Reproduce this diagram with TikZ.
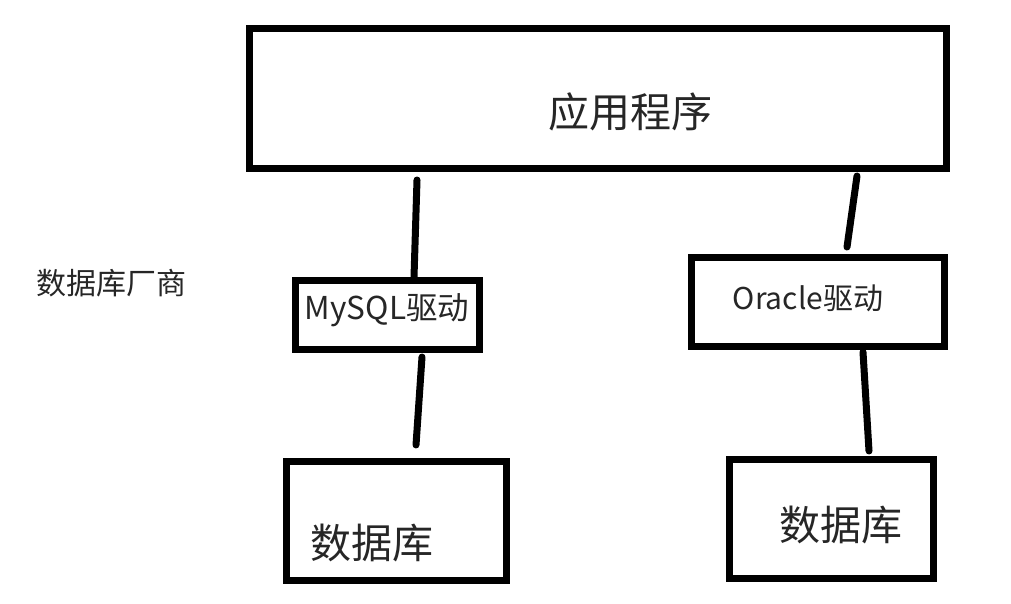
\documentclass[tikz,border=0pt]{standalone}
\usepackage{fontspec}
\setmainfont{Noto Sans CJK SC}
\newfontfamily\cjk{Noto Sans CJK SC}
\begin{document}
\begin{tikzpicture}[x=1pt,y=-1pt,
  box/.style={draw=black,line width=7pt,rectangle,inner sep=0pt,outer sep=0pt,fill=white},
  conn/.style={draw=black,line width=7pt,line cap=round},
  lbl/.style={inner sep=0pt,text=black!85}]
\useasboundingbox (0,0) rectangle (1011,604);
\fill[white] (0,0) rectangle (1011,604);
% boxes
\node[box,minimum width=697pt,minimum height=140pt] (app) at (597.5,99) {};
\node[box,minimum width=184pt,minimum height=69pt] (my) at (387.5,315) {};
\node[box,minimum width=220pt,minimum height=119pt] (db1) at (396.5,521) {};
\node[box,minimum width=253pt,minimum height=89pt] (ora) at (818,302) {};
\node[box,minimum width=204pt,minimum height=119pt] (db2) at (831.5,519) {};
% texts
\node[lbl,font=\fontsize{41}{41}\selectfont] (appt) at (630,112) {应用程序};
\node[lbl,font=\fontsize{31.5}{31.5}\selectfont] (myt) at (387,310) {MySQL驱动};
\node[lbl,font=\fontsize{30}{30}\selectfont] (orat) at (808,298) {Oracle驱动};
\node[lbl,font=\fontsize{41}{41}\selectfont] (db1t) at (372,543) {数据库};
\node[lbl,font=\fontsize{41}{41}\selectfont] (db2t) at (841,525) {数据库};
\node[lbl,font=\fontsize{30}{30}\selectfont] (vendor) at (111,283) {数据库厂商};
% connector ends
\coordinate (l1a) at (417,180);
\coordinate (l1b) at (414,277);
\coordinate (l2a) at (422,357);
\coordinate (l2b) at (416,445);
\coordinate (l3a) at (857,176);
\coordinate (l3b) at (847,247);
\coordinate (l4a) at (863,352);
\coordinate (l4b) at (869,451);
\draw[conn] (l1a) -- (l1b);
\draw[conn] (l2a) -- (l2b);
\draw[conn] (l3a) -- (l3b);
\draw[conn] (l4a) -- (l4b);
\end{tikzpicture}
\end{document}
